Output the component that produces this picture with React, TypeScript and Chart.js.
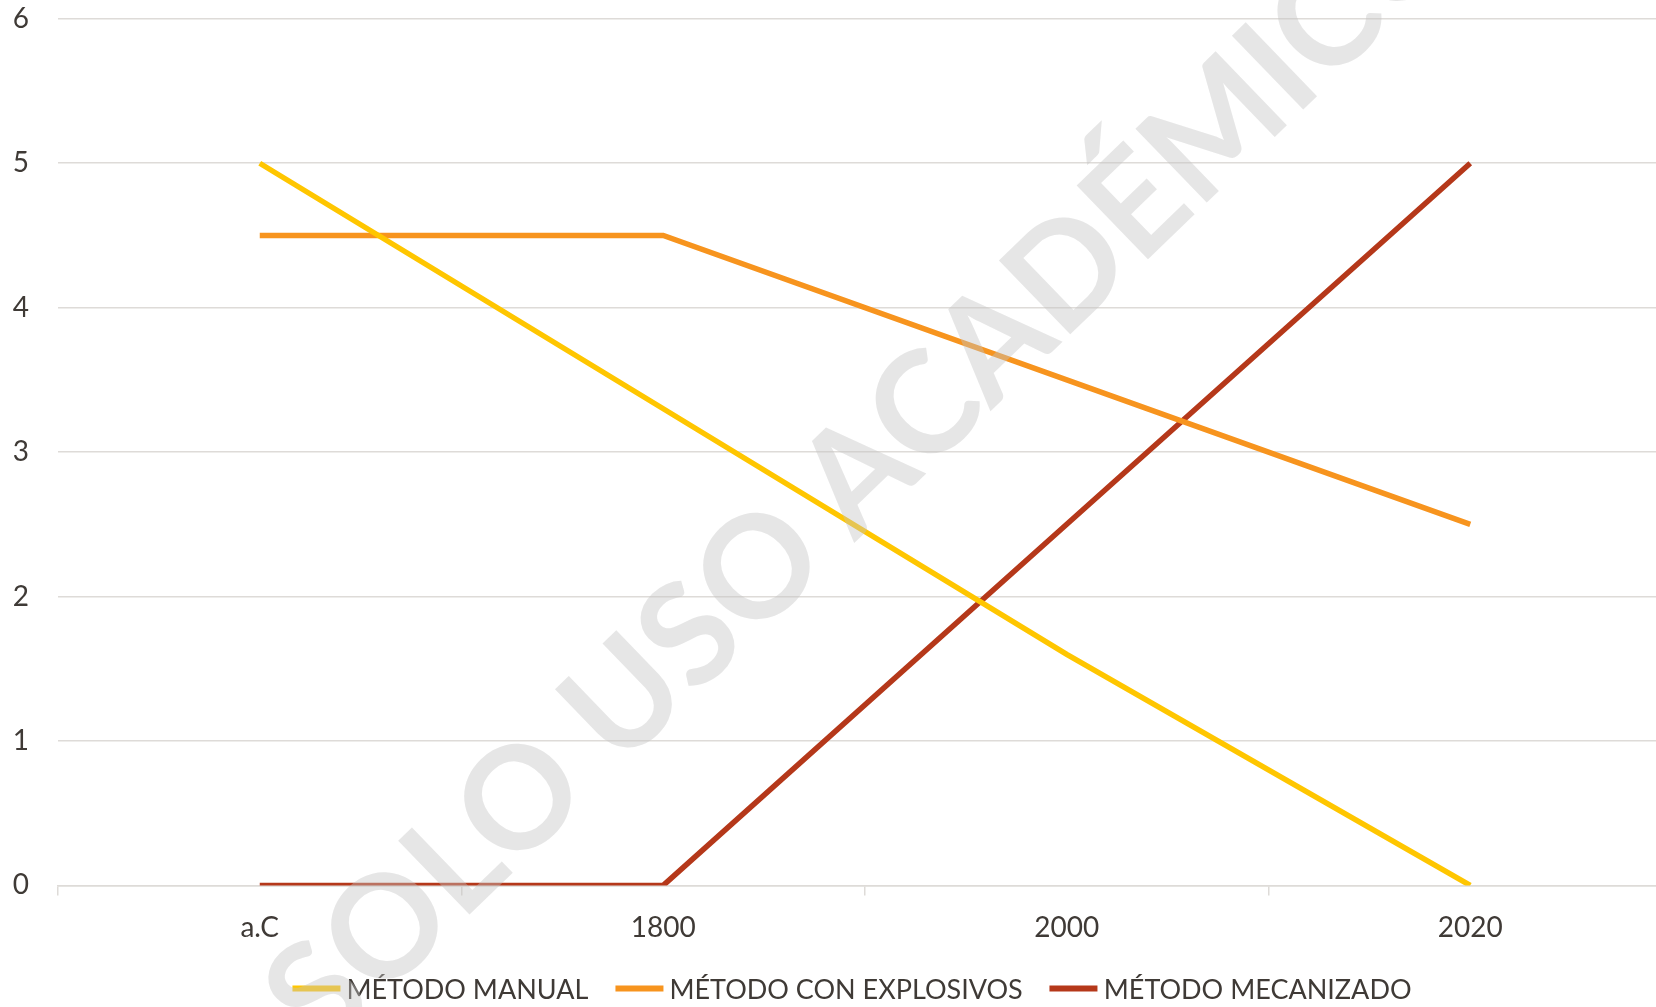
import React, { useEffect, useRef } from "react";
import { Chart, registerables } from "chart.js";

Chart.register(...registerables);

const categories = ["a.C", "1800", "2000", "2020"];
const seriesNames = ["MÉTODO MANUAL", "MÉTODO CON EXPLOSIVOS", "MÉTODO MECANIZADO"];
const manualValues = [5, 3.3, 1.6, 0];
const explosivosValues = [4.5, 4.5, 3.5, 2.5];
const mecanizadoValues = [0, 0, 2.5, 5];
const seriesColors = ["#FFC600", "#F7941E", "#B5381A"];
const yMin = 0;
const yMax = 6;
const yStep = 1;
const watermarkText = "SOLO USO ACADÉMICO";

const textColor = "#3F3A36";
const gridColor = "#DEDBD8";
const fontFamily = "Lato, 'Open Sans', sans-serif";

export default function App() {
  const canvasRef = useRef<HTMLCanvasElement | null>(null);

  useEffect(() => {
    if (!canvasRef.current) return;
    const seriesValues = [manualValues, explosivosValues, mecanizadoValues];
    const chart = new Chart(canvasRef.current, {
      type: "line",
      data: {
        labels: categories,
        datasets: seriesNames.map((name, i) => ({
          label: name,
          data: seriesValues[i],
          borderColor: seriesColors[i],
          backgroundColor: seriesColors[i],
          borderWidth: 5.5,
          pointRadius: 0,
          tension: 0,
          fill: false,
        })),
      },
      options: {
        responsive: false,
        animation: false,
        layout: { padding: { top: 0, right: 8, bottom: 64, left: 0 } },
        plugins: {
          legend: { display: false },
          tooltip: { enabled: false },
        },
        scales: {
          x: {
            type: "category",
            offset: true,
            grid: {
              offset: true,
              drawOnChartArea: false,
              drawTicks: true,
              tickLength: 10,
              color: gridColor,
              lineWidth: 1.5,
            },
            border: { display: true, color: gridColor, width: 1.5 },
            ticks: {
              color: textColor,
              font: { family: fontFamily, size: 28 },
              padding: 16,
              maxRotation: 0,
              autoSkip: false,
            },
          },
          y: {
            min: yMin,
            max: yMax,
            ticks: {
              stepSize: yStep,
              padding: 29,
              color: textColor,
              font: { family: fontFamily, size: 28 },
            },
            grid: { color: gridColor, lineWidth: 1.5, drawTicks: false },
            border: { display: false },
            afterFit: (s: any) => {
              s.width = 58;
            },
          },
        },
      },
    });
    return () => chart.destroy();
  }, []);

  return (
    <div
      style={{
        position: "fixed",
        left: 0,
        top: 0,
        width: 1656,
        height: 1007,
        overflow: "hidden",
        background: "#ffffff",
      }}
    >
      <canvas
        ref={canvasRef}
        width={1680}
        height={1052}
        style={{ position: "absolute", left: 0, top: -27, display: "block" }}
      />
      <div
        style={{
          position: "absolute",
          left: 852,
          top: 988,
          transform: "translate(-50%, -50%)",
          display: "flex",
          alignItems: "center",
          whiteSpace: "nowrap",
          fontFamily,
          fontSize: 27,
          color: textColor,
        }}
      >
        {seriesNames.map((name, i) => (
          <div
            key={name}
            style={{ display: "flex", alignItems: "center", marginLeft: i === 0 ? 0 : 27 }}
          >
            <span
              style={{
                display: "inline-block",
                width: 48,
                height: 6,
                background: seriesColors[i],
                marginRight: 6,
              }}
            />
            <span>{name}</span>
          </div>
        ))}
      </div>
      <div
        style={{
          position: "absolute",
          left: 860,
          top: 461,
          transform: "translate(-50%, -50%) rotate(-44deg)",
          whiteSpace: "nowrap",
          fontFamily,
          fontWeight: 700,
          fontSize: 142,
          lineHeight: 1,
          color: "rgba(195,195,195,0.42)",
          pointerEvents: "none",
        }}
      >
        {watermarkText}
      </div>
    </div>
  );
}
